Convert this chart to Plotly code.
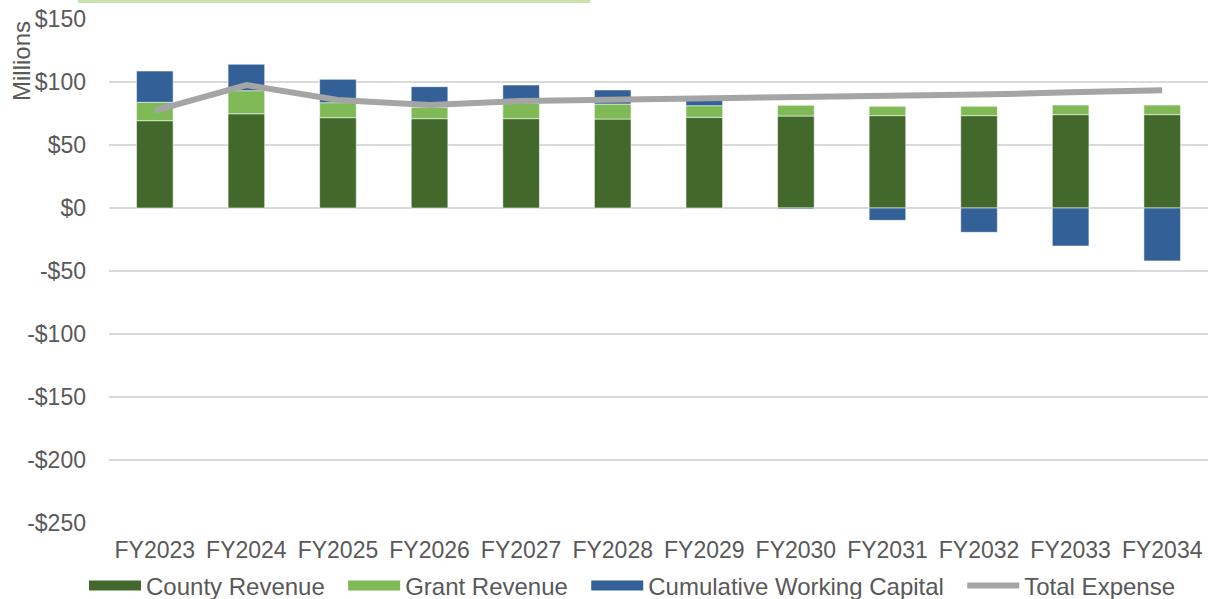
import plotly.graph_objects as go

years = ["FY2023", "FY2024", "FY2025", "FY2026", "FY2027", "FY2028",
         "FY2029", "FY2030", "FY2031", "FY2032", "FY2033", "FY2034"]
county_revenue = [69.3, 74.8, 71.7, 70.9, 70.9, 70.6, 72.0, 73.0, 73.3, 73.3, 74.1, 74.1]
grant_revenue = [14.6, 18.3, 11.9, 9.0, 12.2, 11.9, 9.2, 8.5, 7.4, 7.4, 7.6, 7.6]
working_capital = [24.8, 21.0, 18.5, 16.4, 14.5, 11.2, 4.5, -0.8, -9.8, -19.3, -30.2, -42.0]
total_expense = [77.2, 97.6, 85.7, 81.7, 85.0, 86.0, 86.5, 87.7, 88.8, 90.0, 91.8, 93.5]

y_ticks = [150, 100, 50, 0, -50, -100, -150, -200, -250]
y_tick_text = ["$150", "$100", "$50", "$0", "-$50", "-$100", "-$150", "-$200", "-$250"]

FONT = "Liberation Sans, Arial, sans-serif"
GREY_TXT = "#595959"
C_COUNTY, C_GRANT, C_WC, C_EXP = "#43682B", "#7FBA57", "#336096", "#A5A5A5"

fig = go.Figure()
bar_line = dict(color="rgba(255,255,255,0.55)", width=1)
fig.add_bar(x=years, y=county_revenue, name="County Revenue", showlegend=False,
            marker=dict(color=C_COUNTY, line=bar_line))
fig.add_bar(x=years, y=grant_revenue, name="Grant Revenue", showlegend=False,
            marker=dict(color=C_GRANT, line=bar_line))
fig.add_bar(x=years, y=working_capital, name="Cumulative Working Capital", showlegend=False,
            marker=dict(color=C_WC, line=bar_line))
fig.add_scatter(x=years, y=total_expense, name="Total Expense", mode="lines",
                showlegend=False, line=dict(color=C_EXP, width=6))

# legend entries (wide swatches like the original)
PAD = "\u00a0\u00a0"
for name, col, w in [("County Revenue" + PAD, C_COUNTY, 13), ("Grant Revenue" + PAD, C_GRANT, 13),
                     ("Cumulative Working Capital" + PAD, C_WC, 13), ("Total Expense", C_EXP, 6)]:
    fig.add_scatter(x=[None], y=[None], mode="lines", name=name,
                    line=dict(color=col, width=w), showlegend=True)

fig.update_layout(
    width=1208, height=599,
    barmode="relative",
    bargap=0.6,
    plot_bgcolor="white", paper_bgcolor="white",
    margin=dict(l=109, r=0, t=19, b=76, autoexpand=False),
    font=dict(family=FONT, size=23, color=GREY_TXT),
    showlegend=True,
    legend=dict(orientation="h", x=0.5236, xanchor="center", xref="container",
                y=(599 - 586) / 599, yanchor="middle", yref="container",
                font=dict(size=24, color=GREY_TXT), traceorder="normal",
                itemwidth=52, bgcolor="rgba(0,0,0,0)"),
    xaxis=dict(showgrid=False, showline=False, ticks="", ticklabelstandoff=11,
               tickfont=dict(size=23, color=GREY_TXT)),
    yaxis=dict(range=[-250, 150], tickvals=y_ticks, ticktext=y_tick_text,
               showgrid=True, gridcolor="#D9D9D9", gridwidth=1.5,
               zeroline=True, zerolinecolor="#D9D9D9", zerolinewidth=1.5,
               showline=False, ticks="", ticklabelstandoff=22,
               tickfont=dict(size=23, color=GREY_TXT)),
    shapes=[dict(type="rect", xref="paper", yref="paper", x0=-0.0282, x1=0.4377,
                 y0=(523 - 3) / 504, y1=(523 - 0) / 504 + 0.002,
                 fillcolor="#C9E3AD", line=dict(width=0), layer="above")],
    annotations=[dict(text="Millions", textangle=-90, xref="paper", yref="paper",
                      x=(21 - 109) / 1099, y=(523 - 61) / 504, xanchor="center", yanchor="middle",
                      showarrow=False, font=dict(size=24, color=GREY_TXT))],
)

fig.write_html("out.html")
